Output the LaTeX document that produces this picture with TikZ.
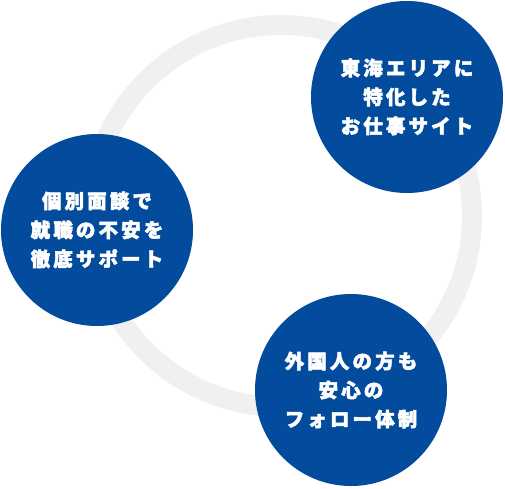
\documentclass[tikz,border=0pt]{standalone}
\usepackage{fontspec}
\newfontfamily\jp[LetterSpace=16]{Noto Sans CJK JP}
\newcommand\heavytext[1]{\special{pdf:literal direct 2 Tr 0.5 w 1 1 1 RG}#1\special{pdf:literal direct 0 Tr}}
\definecolor{ringgray}{HTML}{F1EFEF}
\definecolor{navy}{HTML}{034B9C}
\begin{document}
\begin{tikzpicture}[x=1pt,y=-1pt,
  bubble/.style={circle,fill=navy,minimum size=192pt,inner sep=0pt,
    text=white,align=center,font=\jp\bfseries\fontsize{19.5}{29}\selectfont}]
\useasboundingbox (0,0) rectangle (505,488);
\coordinate (ringc) at (281,216);
\draw[ringgray,line width=20pt] (ringc) circle[radius=191pt];
\node[bubble] (a) at (407,97) {\heavytext{東海エリアに}\\\heavytext{特化した}\\\heavytext{お仕事サイト}};
\node[bubble] (b) at (97,230) {\heavytext{個別面談で}\\\heavytext{就職の不安を}\\\heavytext{徹底サポート}};
\node[bubble] (c) at (351,390) {\heavytext{外国人の方も}\\\heavytext{安心の}\\\heavytext{フォロー体制}};
\end{tikzpicture}
\end{document}
